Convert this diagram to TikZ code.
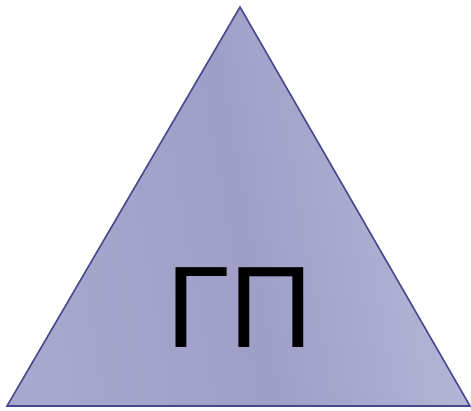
\documentclass[tikz,border=0pt]{standalone}
\usepackage{fontspec}
\setmainfont{Liberation Sans}
\begin{document}
\begin{tikzpicture}[x=1pt,y=1pt,
  tri/.style={draw=black!55!blue!60!white, draw={rgb,255:red,72;green,72;blue,140}, line width=1.6pt, line join=miter,
    left color={rgb,255:red,168;green,168;blue,206}, right color={rgb,255:red,184;green,184;blue,216}, middle color={rgb,255:red,158;green,158;blue,200}, shading angle=100},
  lbl/.style={font=\fontsize{116}{116}\selectfont, text=black, inner sep=0pt}]
\useasboundingbox (0,0) rectangle (471,410);
\coordinate (A) at (240,403);
\coordinate (B) at (7,4);
\coordinate (C) at (470,4);
\draw[tri] (A) -- (B) -- (C) -- cycle;
\node[lbl] (t) at (240,102) {ГП};
\end{tikzpicture}
\end{document}
